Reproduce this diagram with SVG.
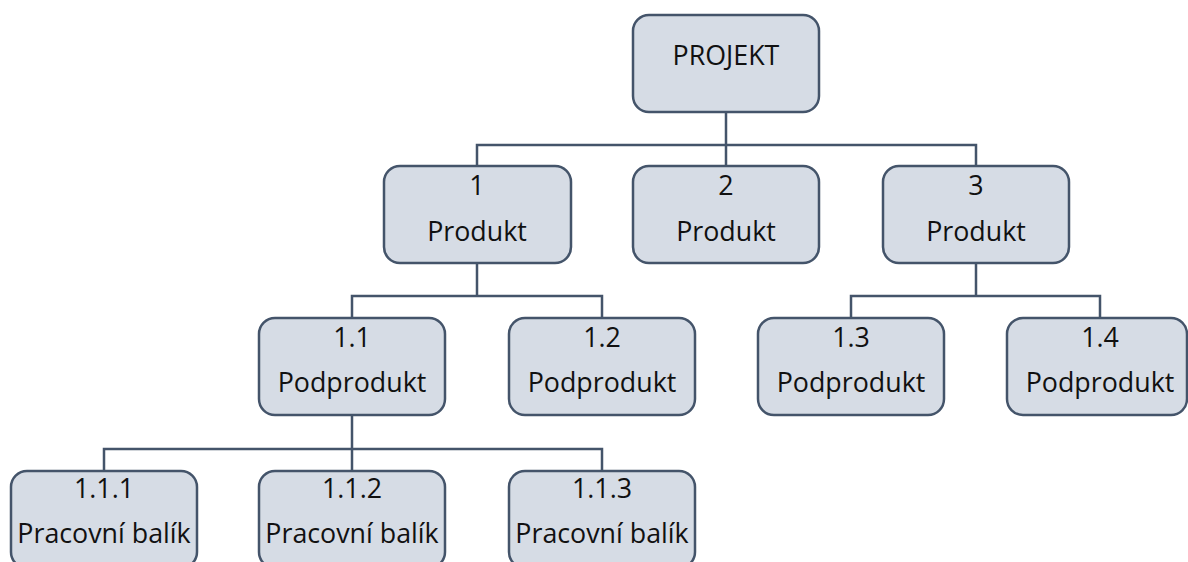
<svg xmlns="http://www.w3.org/2000/svg" width="1188" height="562" viewBox="0 0 1188 562">
<style>
.box{fill:#d6dce5;stroke:#44546a;stroke-width:2.5}
.t{font-family:"Open Sans","Noto Sans",sans-serif;font-size:26.8px;fill:#111;text-anchor:middle}
.c{fill:none;stroke:#44546a;stroke-width:2.5}
</style>
<rect width="1188" height="562" fill="#fff"/>
<g id="connectors">
<path class="c" d="M726 112V145M477 166V145H976V166M726 145V166"/>
<path class="c" d="M477 263V296M352 318V296H602V318"/>
<path class="c" d="M976 263V296M851 318V296H1100V318"/>
<path class="c" d="M352 415V449M104 471V449H602V471M352 449V471"/>
</g>
<g id="projekt"><rect class="box" x="633" y="15" width="186" height="97" rx="16"/><text class="t" x="726" y="65">PROJEKT</text></g>
<g id="n1"><rect class="box" x="384" y="166" width="187" height="97" rx="16"/><text class="t" x="477" y="195">1</text><text class="t" x="477" y="241">Produkt</text></g>
<g id="n2"><rect class="box" x="633" y="166" width="186" height="97" rx="16"/><text class="t" x="726" y="195">2</text><text class="t" x="726" y="241">Produkt</text></g>
<g id="n3"><rect class="box" x="883" y="166" width="186" height="97" rx="16"/><text class="t" x="976" y="195">3</text><text class="t" x="976" y="241">Produkt</text></g>
<g id="n1_1"><rect class="box" x="259" y="318" width="186" height="97" rx="16"/><text class="t" x="352" y="347">1.1</text><text class="t" x="352" y="392">Podprodukt</text></g>
<g id="n1_2"><rect class="box" x="509" y="318" width="186" height="97" rx="16"/><text class="t" x="602" y="347">1.2</text><text class="t" x="602" y="392">Podprodukt</text></g>
<g id="n1_3"><rect class="box" x="758" y="318" width="186" height="97" rx="16"/><text class="t" x="851" y="347">1.3</text><text class="t" x="851" y="392">Podprodukt</text></g>
<g id="n1_4"><rect class="box" x="1007" y="318" width="180" height="97" rx="16"/><text class="t" x="1100" y="347">1.4</text><text class="t" x="1100" y="392">Podprodukt</text></g>
<g id="n1_1_1"><rect class="box" x="11" y="471" width="186" height="97" rx="16"/><text class="t" x="104" y="498">1.1.1</text><text class="t" x="104" y="543">Pracovní balík</text></g>
<g id="n1_1_2"><rect class="box" x="259" y="471" width="186" height="97" rx="16"/><text class="t" x="352" y="498">1.1.2</text><text class="t" x="352" y="543">Pracovní balík</text></g>
<g id="n1_1_3"><rect class="box" x="509" y="471" width="186" height="97" rx="16"/><text class="t" x="602" y="498">1.1.3</text><text class="t" x="602" y="543">Pracovní balík</text></g>
</svg>
